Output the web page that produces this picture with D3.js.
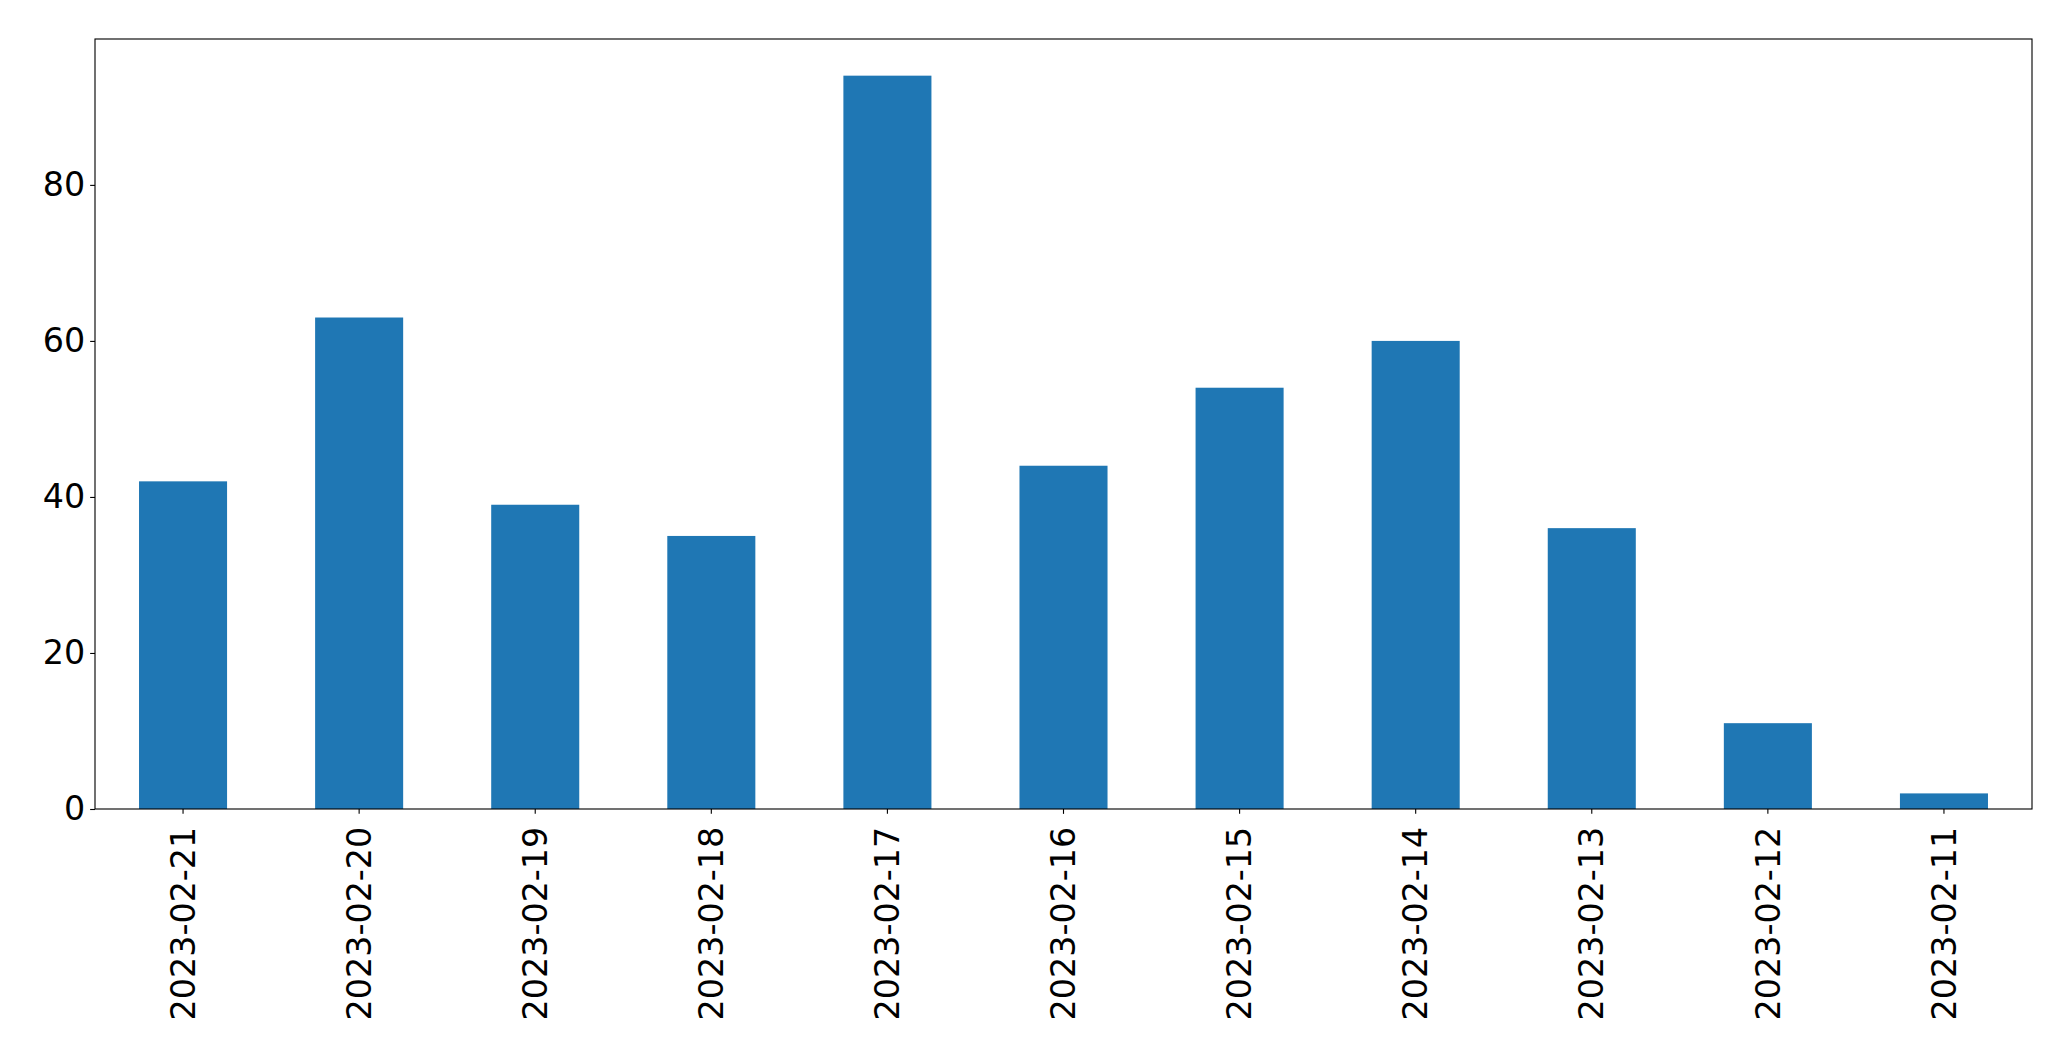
<!DOCTYPE html>
<html>
<head>
<meta charset="utf-8">
<script src="https://cdn.jsdelivr.net/npm/d3@7"></script>
<style>
  html, body { margin: 0; padding: 0; background: #fff; }
  svg { display: block; }
</style>
</head>
<body>
<script>
const categories = ["2023-02-21","2023-02-20","2023-02-19","2023-02-18","2023-02-17","2023-02-16","2023-02-15","2023-02-14","2023-02-13","2023-02-12","2023-02-11"];
const values = [42, 63, 39, 35, 94, 44, 54, 60, 36, 11, 2];
const yTicks = [0, 20, 40, 60, 80];

const W = 2071, H = 1061;
const m = { left: 95, top: 39, right: 2071 - 2032, bottom: 1061 - 809 };
const iw = W - m.left - m.right, ih = H - m.top - m.bottom;
const fontSize = 33.33;
const tickLen = 4.86, pad = 4.86;
const lw = 1.11;

const svg = d3.select("body").append("svg").attr("width", W).attr("height", H);
const g = svg.append("g").attr("transform", `translate(${m.left},${m.top})`);

const x = d3.scaleBand().domain(categories).range([0, iw]).paddingInner(0.5).paddingOuter(0.25);
const y = d3.scaleLinear().domain([0, d3.max(values) * 1.05]).range([ih, 0]);

g.selectAll("rect.bar").data(values).join("rect")
  .attr("class", "bar")
  .attr("x", (d, i) => x(categories[i]))
  .attr("width", x.bandwidth())
  .attr("y", d => y(d))
  .attr("height", d => y(0) - y(d))
  .attr("fill", "#1f77b4");

// y axis
const yAxis = g.append("g").call(d3.axisLeft(y).tickValues(yTicks).tickSize(tickLen).tickPadding(pad).tickFormat(d3.format("d")));
yAxis.select(".domain").remove();
yAxis.selectAll(".tick line").attr("stroke", "#000").attr("stroke-width", lw);
yAxis.selectAll(".tick text").attr("font-family", "DejaVu Sans").attr("font-size", fontSize).attr("fill", "#000");

// x axis
const xAxis = g.append("g").attr("transform", `translate(0,${ih})`)
  .call(d3.axisBottom(x).tickSize(tickLen).tickPadding(pad));
xAxis.select(".domain").remove();
xAxis.selectAll(".tick line").attr("stroke", "#000").attr("stroke-width", lw);
xAxis.selectAll(".tick text")
  .attr("font-family", "DejaVu Sans").attr("font-size", fontSize).attr("fill", "#000")
  .attr("transform", "rotate(-90)")
  .attr("x", -(tickLen + pad + 8))
  .attr("y", 0)
  .attr("dy", "0.35em")
  .attr("text-anchor", "end");

// frame
g.append("rect").attr("x", 0).attr("y", 0).attr("width", iw).attr("height", ih)
  .attr("fill", "none").attr("stroke", "#000").attr("stroke-width", lw);
</script>
</body>
</html>
